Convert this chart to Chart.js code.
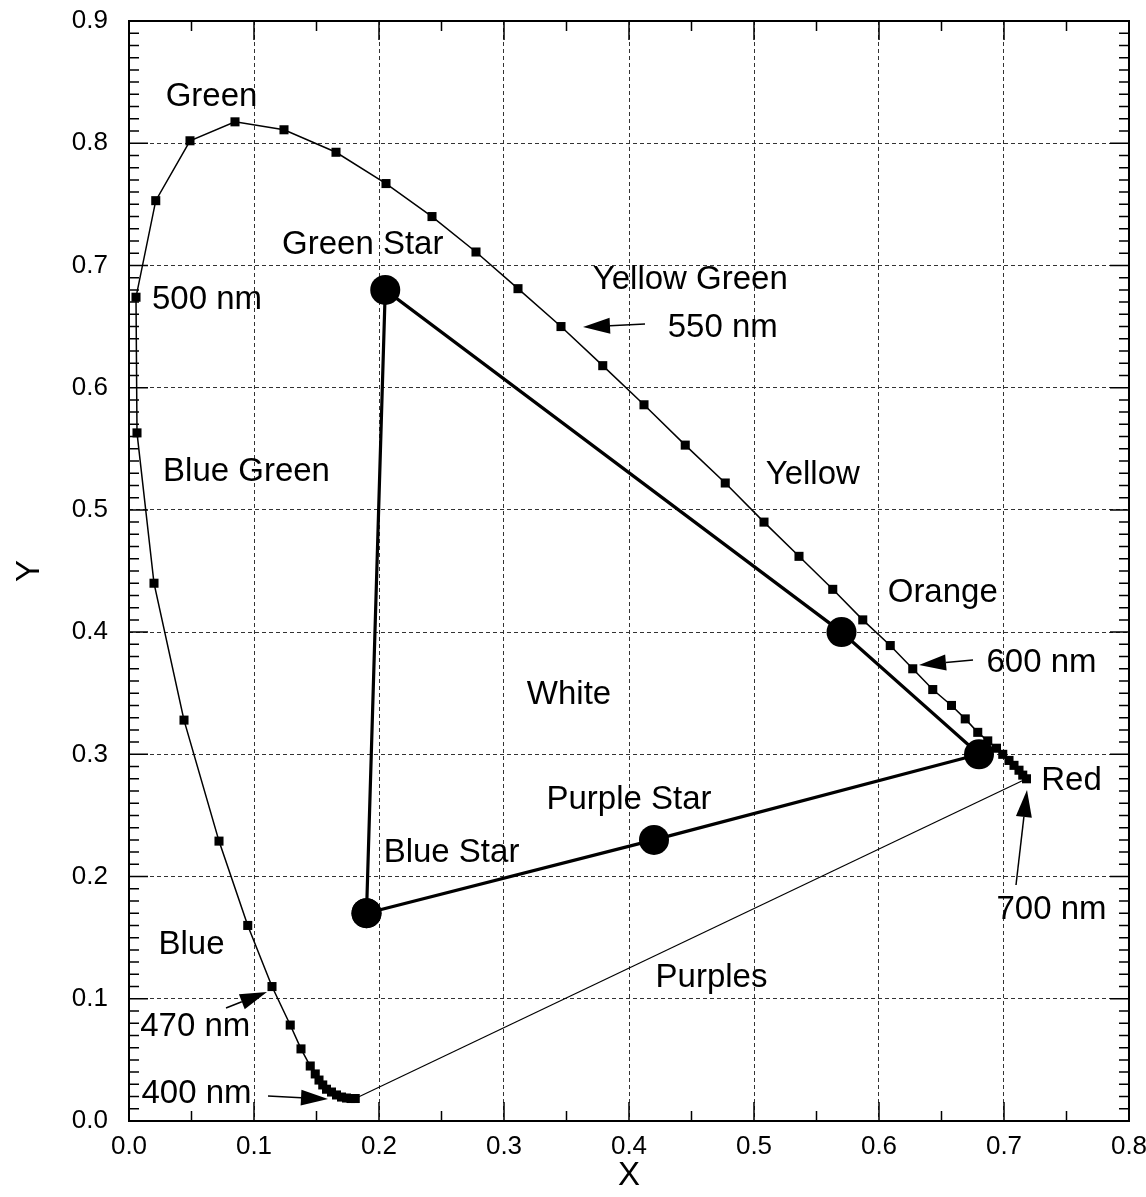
<!DOCTYPE html>
<html>
<head>
<meta charset="utf-8">
<script src="https://cdn.jsdelivr.net/npm/chart.js@4"></script>
<style>
  body { margin: 0; background: #fff; }
  canvas { display: block; }
</style>
</head>
<body>
<canvas id="cie" width="1146" height="1197"></canvas>
<script>
// spectral locus points (x, y), short wavelength end first
var locusX = [0.181, 0.1776, 0.174, 0.170, 0.166, 0.162, 0.158, 0.155, 0.152, 0.149,
  0.145, 0.1376, 0.129, 0.1144, 0.095, 0.072, 0.044, 0.020, 0.0064, 0.0056,
  0.0214, 0.0488, 0.0848, 0.124, 0.1656, 0.2056, 0.2424, 0.2776, 0.3112, 0.3456,
  0.379, 0.412, 0.445, 0.477, 0.508, 0.536, 0.563, 0.587, 0.609, 0.627,
  0.643, 0.658, 0.669, 0.679, 0.687, 0.694, 0.699, 0.704, 0.708, 0.712, 0.715, 0.718]
var locusY = [0.0184, 0.0184, 0.0188, 0.0196, 0.0213, 0.0237, 0.026, 0.0295, 0.0335, 0.0385,
  0.045, 0.059, 0.0785, 0.110, 0.160, 0.229, 0.328, 0.440, 0.563, 0.674,
  0.753, 0.802, 0.8175, 0.811, 0.7926, 0.767, 0.740, 0.711, 0.681, 0.650,
  0.618, 0.586, 0.553, 0.522, 0.490, 0.462, 0.435, 0.410, 0.389, 0.370,
  0.353, 0.340, 0.329, 0.318, 0.311, 0.305, 0.300, 0.295, 0.291, 0.287, 0.283, 0.280]

// line of purples (closing the locus)
var purpleX = [0.181, 0.718]
var purpleY = [0.0184, 0.280]

// the star gamut: blue -> green -> (orange) -> red -> purple -> blue
var starX = [0.19, 0.205, 0.57, 0.68, 0.42, 0.19]
var starY = [0.17, 0.68, 0.40, 0.30, 0.23, 0.17]

// text labels
var labelText = ['Green', 'Green Star', '500 nm', 'Yellow Green', '550 nm', 'Blue Green',
  'Yellow', 'Orange', '600 nm', 'White', 'Red', 'Purple Star', 'Blue Star', '700 nm',
  'Blue', 'Purples', '470 nm', '400 nm']
var labelX = [0.066, 0.187, 0.0624, 0.449, 0.475, 0.094, 0.547, 0.651, 0.730, 0.352,
  0.754, 0.400, 0.258, 0.738, 0.050, 0.466, 0.053, 0.054]
var labelY = [0.838, 0.717, 0.672, 0.688, 0.649, 0.531, 0.5285, 0.432, 0.375, 0.349,
  0.278, 0.263, 0.219, 0.173, 0.144, 0.117, 0.077, 0.022]

// arrows: tail -> tip
var arrowTailX = [0.4128, 0.6752, 0.7096, 0.0776, 0.1112]
var arrowTailY = [0.6521, 0.3772, 0.1931, 0.0925, 0.0205]
var arrowTipX = [0.3632, 0.632, 0.7184, 0.1104, 0.1592]
var arrowTipY = [0.6496, 0.3731, 0.2708, 0.1055, 0.018]

var FONT = "'Liberation Sans', Arial, sans-serif"

function pts(xs, ys) {
  var out = []
  for (var i = 0; i < xs.length; i++) out.push({ x: xs[i], y: ys[i] })
  return out
}

// frame with inward ticks on all four sides, plus axis titles
var framePlugin = {
  id: 'frame',
  afterDraw: function (chart) {
    var ctx = chart.ctx
    var a = chart.chartArea
    var xs = chart.scales.x, ys = chart.scales.y
    ctx.save()
    ctx.strokeStyle = '#000'
    ctx.lineWidth = 2
    ctx.strokeRect(a.left, a.top, a.right - a.left, a.bottom - a.top)
    ctx.lineWidth = 1.5
    ctx.beginPath()
    for (var i = 0; i <= 90; i++) {
      var py = ys.getPixelForValue(i / 100)
      var len = (i % 10 === 0) ? 19 : 10
      ctx.moveTo(a.left, py); ctx.lineTo(a.left + len, py)
      ctx.moveTo(a.right, py); ctx.lineTo(a.right - len, py)
    }
    for (var j = 0; j <= 16; j++) {
      var px = xs.getPixelForValue(j * 0.05)
      var l2 = (j % 2 === 0) ? 19 : 10
      ctx.moveTo(px, a.bottom); ctx.lineTo(px, a.bottom - l2)
      ctx.moveTo(px, a.top); ctx.lineTo(px, a.top + l2)
    }
    ctx.stroke()

    ctx.fillStyle = '#000'
    ctx.font = '33px ' + FONT
    ctx.textAlign = 'center'
    ctx.textBaseline = 'middle'
    ctx.fillText('X', (a.left + a.right) / 2, 1176)
    ctx.translate(30, (a.top + a.bottom) / 2)
    ctx.rotate(-Math.PI / 2)
    ctx.fillText('Y', 0, 0)
    ctx.restore()
  }
}

// text labels and arrows placed in data coordinates
var notesPlugin = {
  id: 'notes',
  afterDatasetsDraw: function (chart) {
    var ctx = chart.ctx
    var xs = chart.scales.x, ys = chart.scales.y
    ctx.save()
    ctx.fillStyle = '#000'
    ctx.strokeStyle = '#000'
    ctx.font = '33px ' + FONT
    ctx.textAlign = 'center'
    ctx.textBaseline = 'middle'
    for (var i = 0; i < labelText.length; i++) {
      ctx.fillText(labelText[i], xs.getPixelForValue(labelX[i]), ys.getPixelForValue(labelY[i]))
    }
    for (var k = 0; k < arrowTipX.length; k++) {
      var x0 = xs.getPixelForValue(arrowTailX[k]), y0 = ys.getPixelForValue(arrowTailY[k])
      var x1 = xs.getPixelForValue(arrowTipX[k]), y1 = ys.getPixelForValue(arrowTipY[k])
      var ang = Math.atan2(y1 - y0, x1 - x0)
      var hl = 27, hw = 8
      var bx = x1 - hl * Math.cos(ang), by = y1 - hl * Math.sin(ang)
      ctx.lineWidth = 1.5
      ctx.beginPath()
      ctx.moveTo(x0, y0); ctx.lineTo(bx, by)
      ctx.stroke()
      ctx.beginPath()
      ctx.moveTo(x1, y1)
      ctx.lineTo(bx + hw * Math.sin(ang), by - hw * Math.cos(ang))
      ctx.lineTo(bx - hw * Math.sin(ang), by + hw * Math.cos(ang))
      ctx.closePath()
      ctx.fill()
    }
    ctx.restore()
  }
}

var ctx = document.getElementById('cie').getContext('2d')
var chart = new Chart(ctx, {
  type: 'scatter',
  data: {
    datasets: [
      {
        label: 'locus',
        data: pts(locusX, locusY),
        showLine: true,
        borderColor: '#000',
        borderWidth: 1.5,
        pointStyle: 'rect',
        pointRadius: 6.4,
        pointBackgroundColor: '#000',
        pointBorderWidth: 0
      },
      {
        label: 'purples',
        data: pts(purpleX, purpleY),
        showLine: true,
        borderColor: '#000',
        borderWidth: 1.2,
        pointRadius: 0
      },
      {
        label: 'stars',
        data: pts(starX, starY),
        showLine: true,
        borderColor: '#000',
        borderWidth: 3.2,
        pointRadius: 15,
        pointBackgroundColor: '#000',
        pointBorderWidth: 0
      }
    ]
  },
  options: {
    responsive: false,
    animation: false,
    layout: { padding: { top: 21, right: 17, left: 0, bottom: 0 } },
    plugins: { legend: { display: false }, tooltip: { enabled: false } },
    scales: {
      x: {
        type: 'linear',
        min: 0, max: 0.8,
        afterFit: function (s) {
          s.height = 76
          s.paddingLeft = 0
          s.paddingRight = 0
        },
        ticks: {
          stepSize: 0.1,
          padding: 10,
          color: '#000',
          font: { family: FONT, size: 26 },
          callback: function (v) { return v.toFixed(1) }
        },
        grid: { color: '#333', lineWidth: 1, drawTicks: false },
        border: { display: false, dash: [4, 3] }
      },
      y: {
        type: 'linear',
        min: 0, max: 0.9,
        afterFit: function (s) {
          s.width = 129
          s.paddingTop = 0
          s.paddingBottom = 0
        },
        ticks: {
          stepSize: 0.1,
          padding: 21,
          color: '#000',
          font: { family: FONT, size: 26 },
          callback: function (v) { return v.toFixed(1) }
        },
        grid: { color: '#333', lineWidth: 1, drawTicks: false },
        border: { display: false, dash: [4, 3] }
      }
    }
  },
  plugins: [framePlugin, notesPlugin]
})
</script>
</body>
</html>
